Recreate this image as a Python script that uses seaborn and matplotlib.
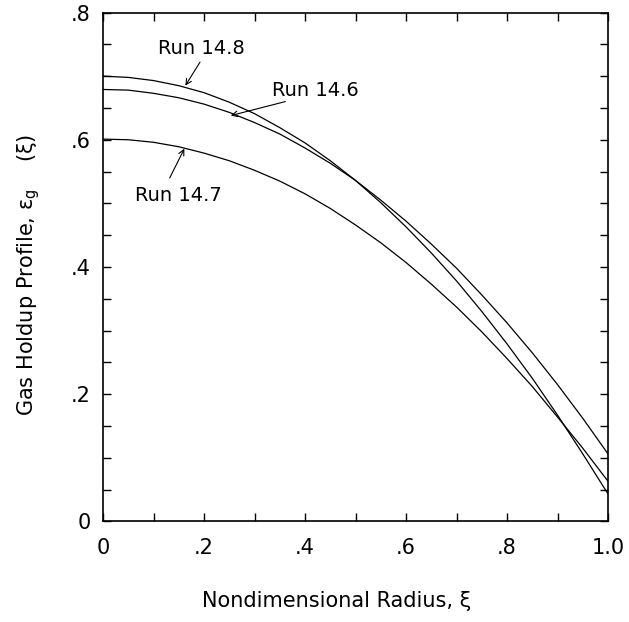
import matplotlib
matplotlib.use('Agg')
import matplotlib.pyplot as plt
import pandas as pd
import seaborn as sns
from matplotlib.ticker import MultipleLocator, FuncFormatter

# radial positions and holdup values
xi = [0.0, 0.05, 0.10, 0.15, 0.20, 0.25, 0.30, 0.35, 0.40, 0.45, 0.50,
      0.55, 0.60, 0.65, 0.70, 0.75, 0.80, 0.85, 0.90, 0.95, 1.0]
run_14_8 = [0.700, 0.698, 0.693, 0.685, 0.674, 0.659, 0.641, 0.619, 0.595, 0.567, 0.536,
            0.501, 0.463, 0.422, 0.378, 0.330, 0.279, 0.225, 0.167, 0.106, 0.043]
run_14_6 = [0.679, 0.678, 0.673, 0.666, 0.656, 0.643, 0.627, 0.609, 0.587, 0.563, 0.536,
            0.505, 0.472, 0.436, 0.398, 0.356, 0.312, 0.265, 0.215, 0.162, 0.106]
run_14_7 = [0.601, 0.600, 0.596, 0.589, 0.579, 0.567, 0.552, 0.535, 0.515, 0.492, 0.466,
            0.438, 0.407, 0.373, 0.337, 0.298, 0.256, 0.212, 0.164, 0.115, 0.063]
runs = ['Run 14.8', 'Run 14.6', 'Run 14.7']

df = pd.concat([
    pd.DataFrame({'xi': xi, 'eps': run_14_8, 'run': runs[0]}),
    pd.DataFrame({'xi': xi, 'eps': run_14_6, 'run': runs[1]}),
    pd.DataFrame({'xi': xi, 'eps': run_14_7, 'run': runs[2]}),
])

sns.set_style('ticks')
plt.rcParams['font.family'] = ['DejaVu Sans']
plt.rcParams['mathtext.default'] = 'regular'
plt.rcParams['text.color'] = 'black'
plt.rcParams['axes.labelcolor'] = 'black'
plt.rcParams['xtick.color'] = 'black'
plt.rcParams['ytick.color'] = 'black'

fig = plt.figure(figsize=(6.29, 6.22), dpi=100)
ax = fig.add_axes([0.1638, 0.1616, 0.8030, 0.8183])

sns.lineplot(data=df, x='xi', y='eps', hue='run', palette=['black'] * 3,
             linewidth=0.9, legend=False, ax=ax)

ax.set_xlim(0, 1.0)
ax.set_ylim(0, 0.8)
ax.xaxis.set_major_locator(MultipleLocator(0.2))
ax.xaxis.set_minor_locator(MultipleLocator(0.1))
ax.yaxis.set_major_locator(MultipleLocator(0.2))
ax.yaxis.set_minor_locator(MultipleLocator(0.05))


def fmt(v, pos):
    if abs(v) < 1e-9:
        return '0'
    if abs(v - 1.0) < 1e-9:
        return '1.0'
    return ('%.1f' % v).lstrip('0')


ax.xaxis.set_major_formatter(FuncFormatter(fmt))
ax.yaxis.set_major_formatter(FuncFormatter(fmt))
ax.tick_params(which='both', direction='in', top=True, right=True,
               length=6, width=1, color='black', labelcolor='black')
ax.tick_params(axis='x', which='major', labelsize=15, pad=12)
ax.tick_params(axis='y', which='major', labelsize=15, pad=9)
for s in ax.spines.values():
    s.set_linewidth(1.2)
    s.set_color('black')

ax.set_xlabel('Nondimensional Radius, ξ', fontsize=15)
ax.xaxis.set_label_coords(0.463, -0.137)
ax.set_ylabel('Gas Holdup Profile, ε$_g$    (ξ)', fontsize=15)
ax.yaxis.set_label_coords(-0.12, 0.485)

# labels with arrows
arrow = dict(arrowstyle='->', lw=0.8, color='black', shrinkA=0, shrinkB=0)
ax.text(0.194, 0.744, 'Run 14.8', fontsize=14, ha='center', va='center')
ax.annotate('', xy=(0.163, 0.685), xytext=(0.192, 0.722), arrowprops=arrow)
ax.text(0.421, 0.677, 'Run 14.6', fontsize=14, ha='center', va='center')
ax.annotate('', xy=(0.253, 0.638), xytext=(0.361, 0.660), arrowprops=arrow)
ax.text(0.150, 0.513, 'Run 14.7', fontsize=14, ha='center', va='center')
ax.annotate('', xy=(0.161, 0.586), xytext=(0.132, 0.540), arrowprops=arrow)

fig.savefig('out.png', dpi=100)
